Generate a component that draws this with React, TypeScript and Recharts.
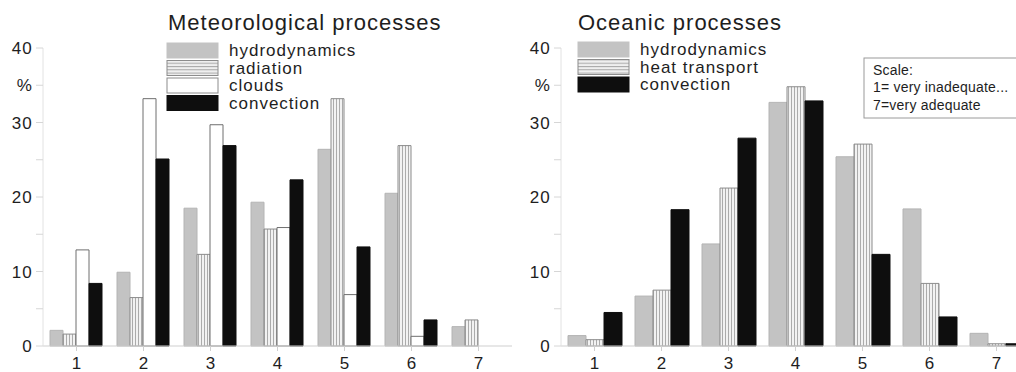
import React from 'react';
import { BarChart, Bar, XAxis, YAxis } from 'recharts';

// rating scale 1..7 shared by both panels
const categories = ['1', '2', '3', '4', '5', '6', '7'];

// Meteorological processes, % of answers per rating
const meteoHydrodynamics = [2.1, 9.9, 18.5, 19.3, 26.4, 20.5, 2.6];
const meteoRadiation = [1.6, 6.5, 12.3, 15.7, 33.2, 26.9, 3.5];
const meteoClouds = [12.9, 33.2, 29.7, 15.9, 6.9, 1.3, 0];
const meteoConvection = [8.4, 25.1, 26.9, 22.3, 13.3, 3.5, 0];

// Oceanic processes, % of answers per rating
const oceanHydrodynamics = [1.4, 6.7, 13.7, 32.7, 25.4, 18.4, 1.7];
const oceanHeatTransport = [0.85, 7.5, 21.2, 34.8, 27.1, 8.4, 0.3];
const oceanConvection = [4.5, 18.3, 27.9, 32.9, 12.3, 3.9, 0.3];

const yTicks = [0, 5, 10, 15, 20, 25, 30, 35, 40];
const yLabels: Record<number, string> = { 0: '0', 10: '10', 20: '20', 30: '30', 35: '%', 40: '40' };

const scaleNote = ['Scale:', '1= very inadequate...', '7=very adequate'];

const FONT = '"Liberation Sans", Arial, Helvetica, sans-serif';
const INK = '#1e1e1e';

type Style = { fill: string; stroke: string; swatch: string; swatchStroke: string };

const STYLES: Record<string, Style> = {
  hydrodynamics: { fill: '#c3c3c3', stroke: '#b4b4b4', swatch: '#c3c3c3', swatchStroke: '#c3c3c3' },
  radiation: { fill: 'url(#vstripe)', stroke: '#8c8c8c', swatch: 'url(#hstripe)', swatchStroke: '#8c8c8c' },
  'heat transport': { fill: 'url(#vstripe)', stroke: '#8c8c8c', swatch: 'url(#hstripe)', swatchStroke: '#8c8c8c' },
  clouds: { fill: '#ffffff', stroke: '#6f6f6f', swatch: '#ffffff', swatchStroke: '#8c8c8c' },
  convection: { fill: '#0e0e0e', stroke: '#0e0e0e', swatch: '#0e0e0e', swatchStroke: '#0e0e0e' },
};

type Series = { key: string; values: number[] };

const meteoSeries: Series[] = [
  { key: 'hydrodynamics', values: meteoHydrodynamics },
  { key: 'radiation', values: meteoRadiation },
  { key: 'clouds', values: meteoClouds },
  { key: 'convection', values: meteoConvection },
];

const oceanSeries: Series[] = [
  { key: 'hydrodynamics', values: oceanHydrodynamics },
  { key: 'heat transport', values: oceanHeatTransport },
  { key: 'convection', values: oceanConvection },
];

const toRows = (series: Series[]) =>
  categories.map((cat, i) => {
    const row: Record<string, string | number> = { cat };
    series.forEach((s) => (row[s.key] = s.values[i]));
    return row;
  });

const YTick = (props: any) => {
  const { x, y, payload } = props;
  const label = yLabels[payload.value];
  if (!label) return null;
  return (
    <text x={x} y={y} dy="0.36em" textAnchor="end" fontSize={17} letterSpacing={1.2} fill={INK} fontFamily={FONT}>
      {label}
    </text>
  );
};

const XTick = (props: any) => {
  const { x, y, payload } = props;
  return (
    <text x={x} y={y} dy={16} textAnchor="middle" fontSize={17} fill={INK} fontFamily={FONT}>
      {payload.value}
    </text>
  );
};

const Panel = ({ series, width }: { series: Series[]; width: number }) => (
  <BarChart
    width={width}
    height={372}
    data={toRows(series)}
    margin={{ top: 48, right: 0, bottom: 0, left: 0 }}
    barCategoryGap={7}
    barGap={0}
  >
    <XAxis
      dataKey="cat"
      height={26}
      axisLine={{ stroke: '#cfcfcf' }}
      tickLine={{ stroke: '#cfcfcf' }}
      tickSize={5}
      tickMargin={2}
      tick={<XTick />}
      interval={0}
    />
    <YAxis
      type="number"
      domain={[0, 40]}
      ticks={yTicks}
      width={43}
      axisLine={{ stroke: '#e2e2e2' }}
      tickLine={{ stroke: '#d6d6d6' }}
      tickSize={7}
      tickMargin={3}
      tick={<YTick />}
      interval={0}
    />
    {series.map((s) => (
      <Bar
        key={s.key}
        dataKey={s.key}
        fill={STYLES[s.key].fill}
        stroke={STYLES[s.key].stroke}
        strokeWidth={1}
        isAnimationActive={false}
      />
    ))}
  </BarChart>
);

const Legend = ({ x, y, series }: { x: number; y: number; series: Series[] }) => (
  <g>
    {series.map((s, i) => {
      const top = y + i * 17.5;
      const st = STYLES[s.key];
      return (
        <g key={s.key}>
          <rect x={x} y={top} width={51} height={15} fill={st.swatch} stroke={st.swatchStroke} strokeWidth={1} />
          <text x={x + 62} y={top + 13} fontSize={17} letterSpacing={1} fill={INK} fontFamily={FONT}>
            {s.key}
          </text>
        </g>
      );
    })}
  </g>
);

const Title = ({ x, text }: { x: number; text: string }) => (
  <text x={x} y={30} fontSize={22} letterSpacing={1} fill={INK} fontFamily={FONT}>
    {text}
  </text>
);

export default function App() {
  return (
    <div style={{ position: 'absolute', left: 0, top: 0, width: 1016, height: 372, overflow: 'hidden', background: '#fff' }}>
      <svg width={0} height={0} style={{ position: 'absolute' }}>
        <defs>
          <pattern id="vstripe" patternUnits="userSpaceOnUse" width={3} height={3}>
            <rect width={3} height={3} fill="#f2f2f2" />
            <rect x={0} width={1} height={3} fill="#ababab" />
          </pattern>
          <pattern id="hstripe" patternUnits="userSpaceOnUse" width={3} height={3.3}>
            <rect width={3} height={3.3} fill="#efefef" />
            <rect y={0} width={3} height={1} fill="#a6a6a6" />
          </pattern>
        </defs>
      </svg>

      <div style={{ position: 'absolute', left: 0, top: 0 }}>
        <Panel series={meteoSeries} width={512} />
      </div>
      <div style={{ position: 'absolute', left: 518, top: 0 }}>
        <Panel series={oceanSeries} width={512} />
      </div>

      <svg width={1016} height={372} style={{ position: 'absolute', left: 0, top: 0, pointerEvents: 'none' }}>
        <Title x={168} text="Meteorological processes" />
        <Legend x={167} y={43} series={meteoSeries} />

        <Title x={578} text="Oceanic processes" />
        <Legend x={578} y={42} series={oceanSeries} />

        <rect x={864} y={58} width={170} height={60} fill="#fff" stroke="#9a9a9a" strokeWidth={1} />
        {scaleNote.map((line, i) => (
          <text key={line} x={873} y={75 + i * 17.3} fontSize={14} letterSpacing={0.2} fill={INK} fontFamily={FONT}>
            {line}
          </text>
        ))}
      </svg>
    </div>
  );
}
